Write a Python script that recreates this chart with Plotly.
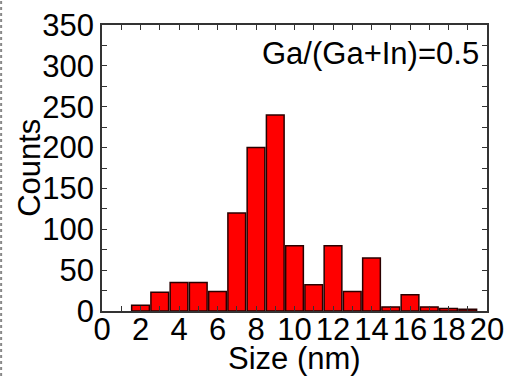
import plotly.graph_objects as go

sizes = [2, 3, 4, 5, 6, 7, 8, 9, 10, 11, 12, 13, 14, 15, 16, 17, 18, 19]
counts = [7, 23, 35, 35, 24, 120, 200, 240, 80, 32, 80, 24, 65, 5, 20, 5, 3, 2]
x_ticks = [0, 2, 4, 6, 8, 10, 12, 14, 16, 18, 20]
y_ticks = [0, 50, 100, 150, 200, 250, 300, 350]

FONT = "Liberation Sans, Arial, sans-serif"

fig = go.Figure()
fig.add_trace(go.Bar(
    x=sizes, y=counts, width=0.92,
    marker=dict(color="#FF0000", line=dict(color="#2a0000", width=1.5)),
))

axis_common = dict(
    showgrid=False, zeroline=False, showline=True, linecolor="#333333", linewidth=1.5,
    mirror="allticks", ticks="inside", ticklen=5, tickwidth=1, tickcolor="#333333",
    tickfont=dict(family=FONT, size=31, color="black"), automargin=False,
)

fig.update_layout(
    width=508, height=376,
    margin=dict(l=102, r=21, t=25, b=65),
    paper_bgcolor="white", plot_bgcolor="white",
    showlegend=False,
    font=dict(family=FONT, color="black"),
    xaxis=dict(range=[0, 20], tickvals=x_ticks, ticktext=[str(v) for v in x_ticks],
               minor=dict(dtick=1, ticks="inside", ticklen=5, tickcolor="#333333", showgrid=False),
               ticklabelstandoff=-10,
               **axis_common),
    yaxis=dict(range=[0, 350], tickvals=y_ticks, ticktext=[str(v) for v in y_ticks],
               minor=dict(dtick=25, ticks="inside", ticklen=5, tickcolor="#333333", showgrid=False),
               **axis_common),
    annotations=[
        dict(text="Ga/(Ga+In)=0.5", xref="paper", yref="paper", x=0.985, y=0.9,
             xanchor="right", yanchor="middle", showarrow=False,
             font=dict(family=FONT, size=31, color="black")),
        dict(text="Size (nm)", xref="paper", yref="paper", x=0.5, y=-0.165,
             xanchor="center", yanchor="middle", showarrow=False,
             font=dict(family=FONT, size=31, color="black")),
        dict(text="Counts", xref="paper", yref="paper", x=-0.19, y=0.5, textangle=-90,
             xanchor="center", yanchor="middle", showarrow=False,
             font=dict(family=FONT, size=31, color="black")),
    ],
    shapes=[dict(type="line", xref="paper", yref="paper", x0=-0.262, x1=-0.262, y0=-0.227, y1=1.087,
                 line=dict(color="#888888", width=2, dash="dot"))],
)

fig.write_html("out.html", config={"displayModeBar": False},
               post_script="document.body.style.margin='0';document.body.style.overflow='hidden';")
